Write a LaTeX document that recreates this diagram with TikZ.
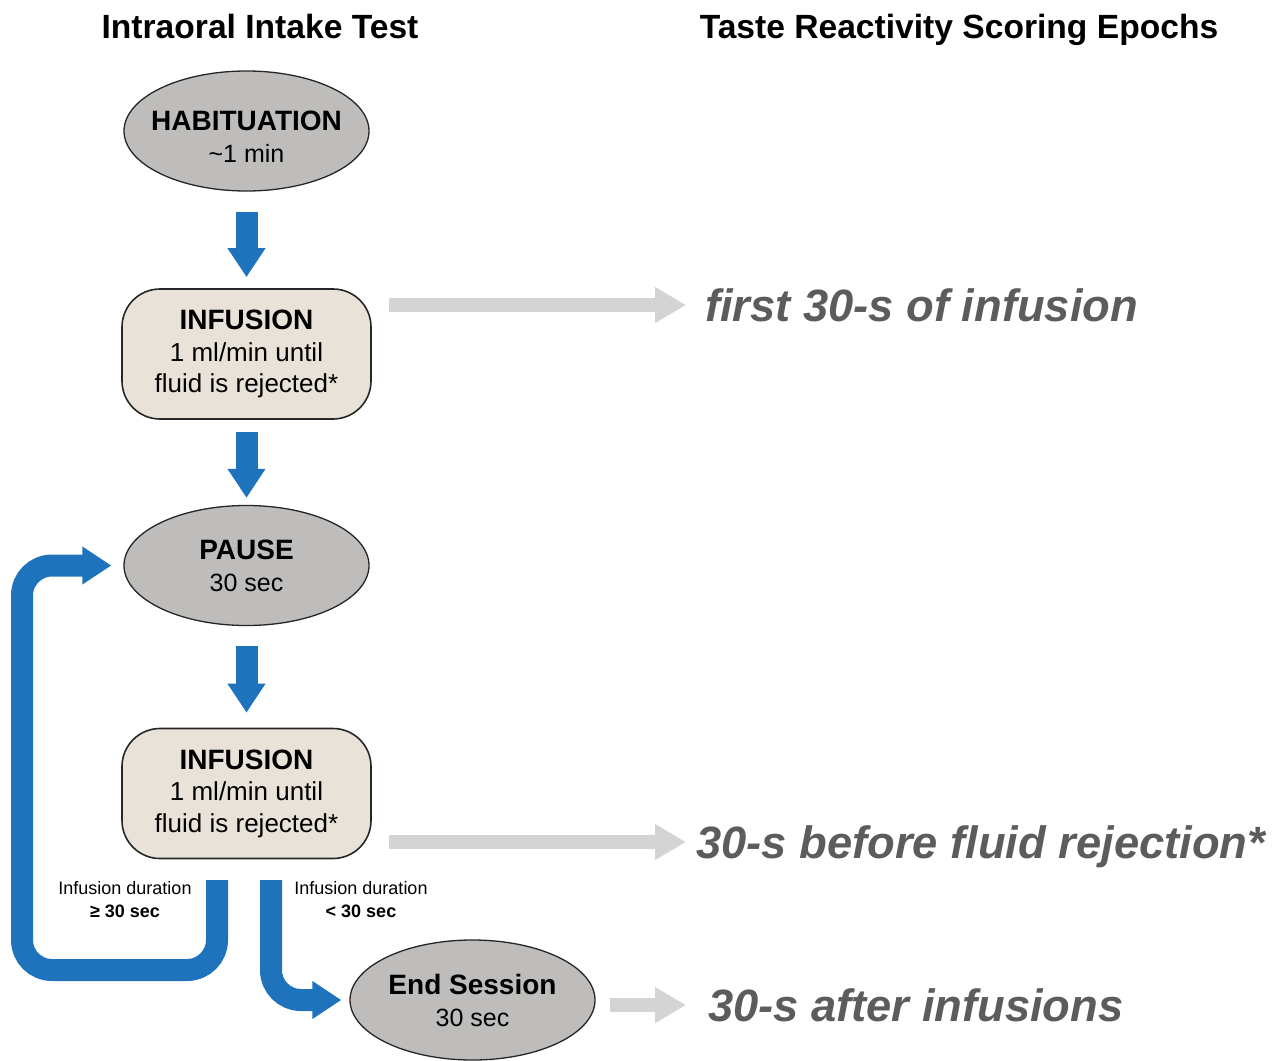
\documentclass[tikz,border=0pt]{standalone}
\usepackage{fontspec}
\setmainfont{Liberation Sans}
\usepackage{tikz}
\usetikzlibrary{arrows.meta, calc, positioning, shapes.geometric}
\definecolor{flowBlue}{HTML}{1F73BD}
\definecolor{phaseGray}{HTML}{BEBDBB}
\definecolor{infuseBeige}{HTML}{E8E2D8}
\definecolor{epochArrow}{HTML}{D4D4D4}
\definecolor{epochText}{HTML}{5C5C5C}
\newcommand{\sz}[2]{\fontsize{#1}{#2}\selectfont}
\tikzset{
    phase/.style = {ellipse, draw=black!85, line width=1.3pt, fill=phaseGray,
        minimum width=245pt, minimum height=120pt},
    phaseText/.style = {align=center, font=\sz{25}{32}},
    infusion/.style = {rectangle, rounded corners=38pt, draw=black!85, line width=1.6pt,
        fill=infuseBeige, minimum width=249pt, minimum height=130pt,
        align=center, font=\sz{26}{31.5}},
    flow/.style = {draw=flowBlue, line width=22pt, -{Triangle[width=36pt, length=29pt]}},
    epoch/.style = {draw=epochArrow, line width=14pt, -{Triangle[width=34pt, length=31pt]}},
    epochLabel/.style = {anchor=west, inner sep=0pt, text height=32pt, text depth=0pt,
        text=epochText, font=\sz{45.3}{50}\bfseries\itshape},
    cond/.style = {align=center, font=\sz{18}{23}},
    heading/.style = {anchor=base, font=\sz{33.6}{38}\bfseries}
}

\begin{document}
\begin{tikzpicture}[x=1pt, y=-1pt]
    \useasboundingbox (0,0) rectangle (1279,1060);

    \node[heading] (leftHead) at (260,38) {Intraoral Intake Test};
    \node[heading] (rightHead) at (959,38) {Taste Reactivity Scoring Epochs};

    % phases of the session
    \node[phase] (hab) at (246.5,131) {};
    \node[phaseText] (habText) at ([yshift=-6pt]hab) {{\bfseries\sz{28}{32}HABITUATION}\\\textasciitilde1 min};
    \node[infusion] (inf1) at (246.5,354) {{\bfseries\sz{28}{31.5}INFUSION}\\1 ml/min until\\fluid is rejected*};
    \node[phase] (pause) at (246.5,565.5) {};
    \node[phaseText] (pauseText) at (pause) {{\bfseries\sz{28}{32}PAUSE}\\30 sec};
    \node[infusion] (inf2) at (246.5,793.5) {{\bfseries\sz{28}{31.5}INFUSION}\\1 ml/min until\\fluid is rejected*};
    \node[phase] (endSes) at (472.5,1000) {};
    \node[phaseText] (endSesText) at (endSes) {{\bfseries\sz{28}{32}End Session}\\30 sec};

    \draw[flow, shorten <=20pt, shorten >=11pt] (hab) -- (inf1);
    \draw[flow, shorten <=12pt, shorten >=7pt] (inf1) -- (pause);
    \draw[flow, shorten <=20pt, shorten >=15pt] (pause) -- (inf2);

    % branches after the second infusion
    \coordinate (loopStart) at (217,880);
    \coordinate (loopCorner) at (22,970);
    \coordinate (endStart) at (271,880);
    \draw[flow, rounded corners=30pt, shorten >=12pt] (loopStart) |- (loopCorner) |- (pause.west);
    \draw[flow, rounded corners=30pt, shorten >=8pt] (endStart) |- (endSes.west);

    \node[cond] (condLong) at (125,899.5) {Infusion duration\\\textbf{≥ 30 sec}};
    \node[cond] (condShort) at (361,899.5) {Infusion duration\\\textbf{< 30 sec}};

    % scoring epochs
    \node[epochLabel] (epFirst) at (705,305) {first 30-s of infusion};
    \node[epochLabel] (epBefore) at (696,842) {30-s before fluid rejection*};
    \node[epochLabel] (epAfter) at (708,1005) {30-s after infusions};

    \draw[epoch, shorten <=17pt, shorten >=19pt] (epFirst.west -| inf1.east) -- (epFirst.west);
    \draw[epoch, shorten <=17pt, shorten >=10pt] (epBefore.west -| inf2.east) -- (epBefore.west);
    \draw[epoch, shorten <=14pt, shorten >=22pt] (epAfter.west -| endSes.east) -- (epAfter.west);
\end{tikzpicture}
\end{document}
